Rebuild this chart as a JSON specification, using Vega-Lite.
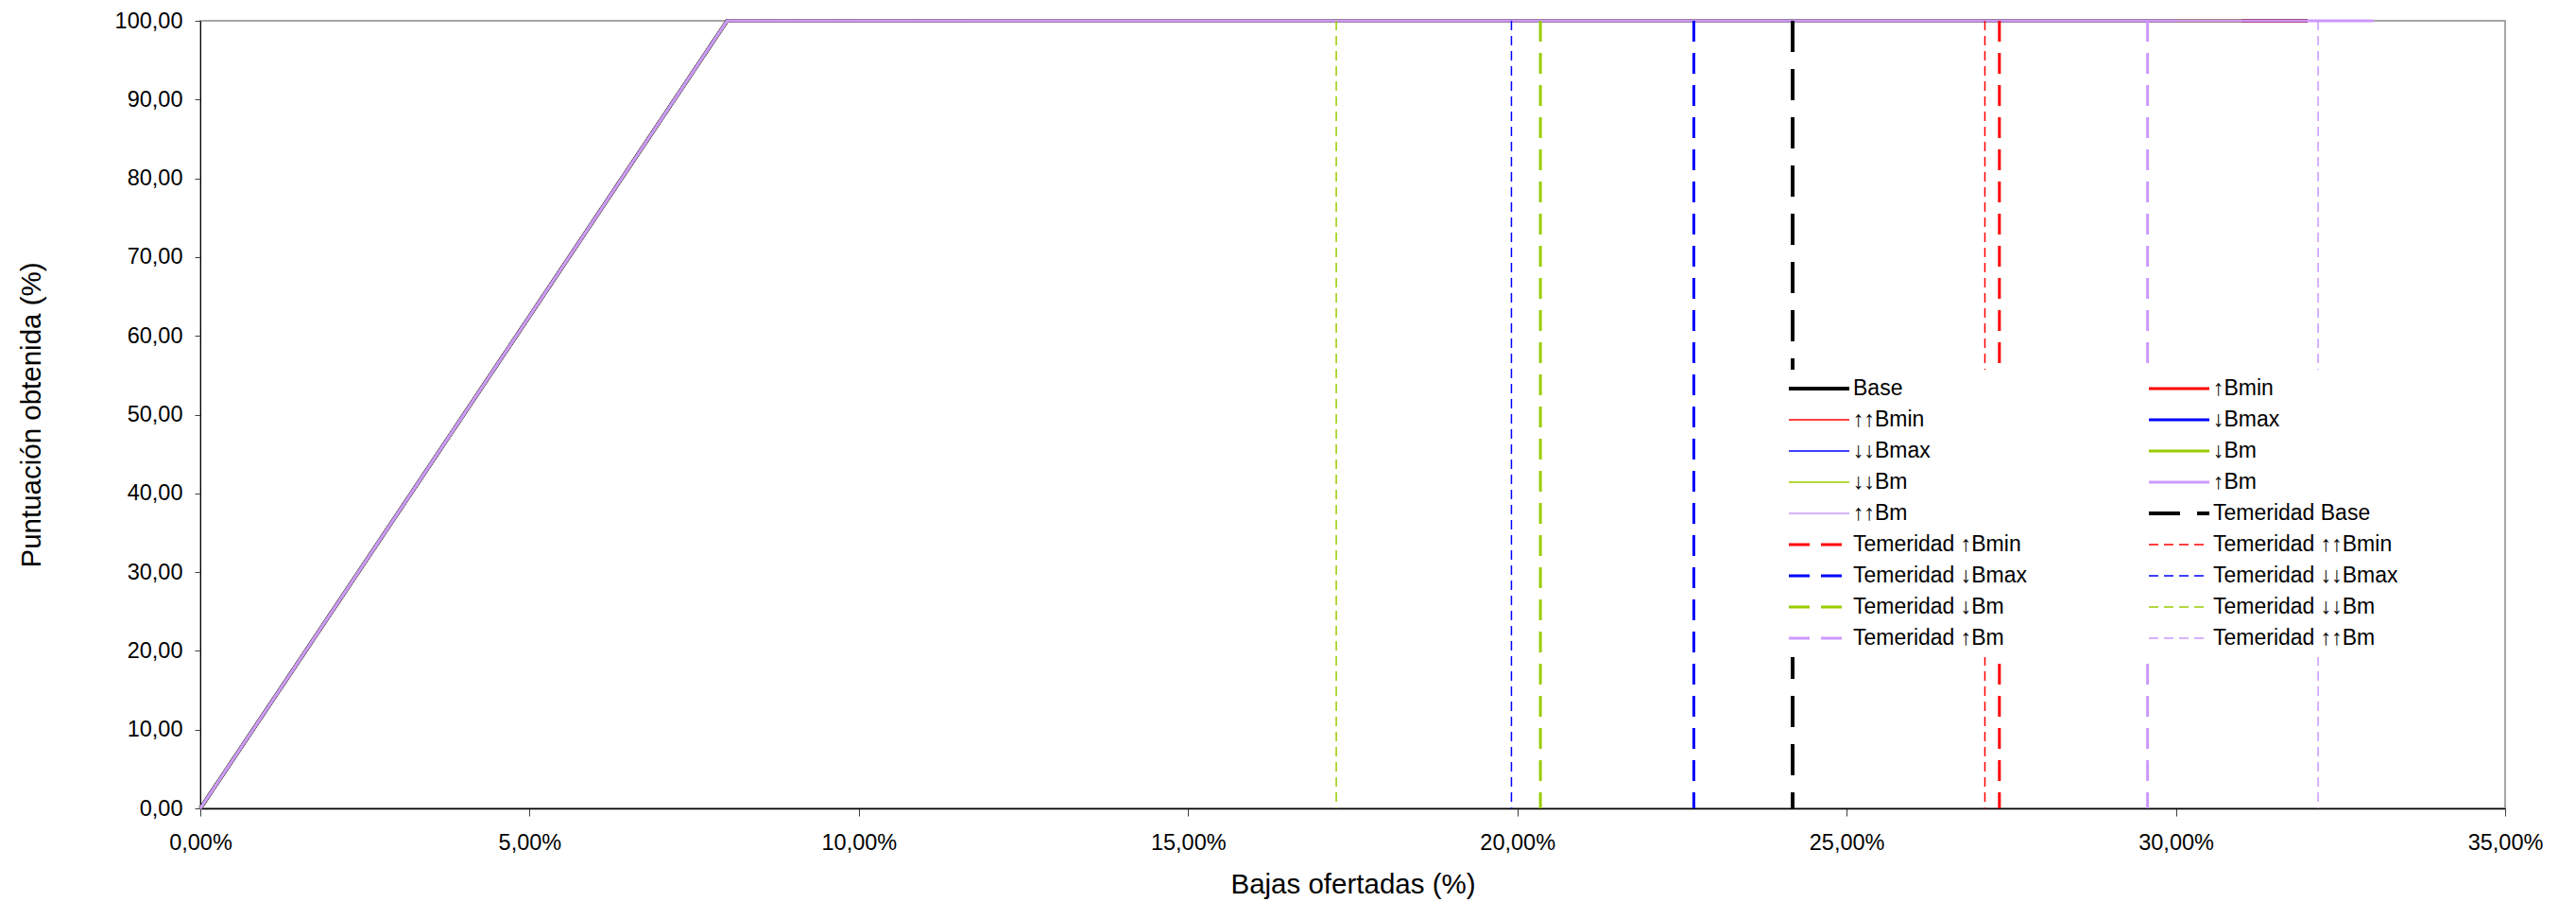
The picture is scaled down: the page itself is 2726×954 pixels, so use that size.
{
  "$schema": "https://vega.github.io/schema/vega-lite/v6.json",
  "autosize": {"type": "none"},
  "padding": {"left": 212, "top": 22, "right": 75, "bottom": 99},
  "width": 2439,
  "height": 833,
  "background": "white",
  "config": {
    "view": {"stroke": "#A6A6A6", "strokeWidth": 2},
    "font": "Liberation Sans",
    "axis": {
      "labelFont": "Liberation Sans",
      "labelFontSize": 23.5,
      "labelColor": "#000000",
      "labelFlush": false,
      "labelOverlap": false,
      "titleFont": "Liberation Sans",
      "titleFontSize": 29.5,
      "titleFontWeight": "normal",
      "titleColor": "#000000",
      "domainColor": "#000000",
      "tickColor": "#404040",
      "grid": false
    }
  },
  "data": {
    "values": [
      {"serie": "Base", "bajas": 0, "puntos": 0},
      {"serie": "Base", "bajas": 8, "puntos": 100},
      {"serie": "Base", "bajas": 32, "puntos": 100},
      {"serie": "↑Bmin", "bajas": 0, "puntos": 0},
      {"serie": "↑Bmin", "bajas": 8, "puntos": 100},
      {"serie": "↑Bmin", "bajas": 32, "puntos": 100},
      {"serie": "↑↑Bmin", "bajas": 0, "puntos": 0},
      {"serie": "↑↑Bmin", "bajas": 8, "puntos": 100},
      {"serie": "↑↑Bmin", "bajas": 32, "puntos": 100},
      {"serie": "↓Bmax", "bajas": 0, "puntos": 0},
      {"serie": "↓Bmax", "bajas": 8, "puntos": 100},
      {"serie": "↓Bmax", "bajas": 30, "puntos": 100},
      {"serie": "↓↓Bmax", "bajas": 0, "puntos": 0},
      {"serie": "↓↓Bmax", "bajas": 8, "puntos": 100},
      {"serie": "↓↓Bmax", "bajas": 30, "puntos": 100},
      {"serie": "↓Bm", "bajas": 0, "puntos": 0},
      {"serie": "↓Bm", "bajas": 8, "puntos": 100},
      {"serie": "↓Bm", "bajas": 31, "puntos": 100},
      {"serie": "↓↓Bm", "bajas": 0, "puntos": 0},
      {"serie": "↓↓Bm", "bajas": 8, "puntos": 100},
      {"serie": "↓↓Bm", "bajas": 30, "puntos": 100},
      {"serie": "↑Bm", "bajas": 0, "puntos": 0},
      {"serie": "↑Bm", "bajas": 8, "puntos": 100},
      {"serie": "↑Bm", "bajas": 33, "puntos": 100},
      {"serie": "↑↑Bm", "bajas": 0, "puntos": 0},
      {"serie": "↑↑Bm", "bajas": 8, "puntos": 100},
      {"serie": "↑↑Bm", "bajas": 33, "puntos": 100},
      {"serie": "Temeridad Base", "bajas": 24.18, "puntos": 100},
      {"serie": "Temeridad Base", "bajas": 24.18, "puntos": 0},
      {"serie": "Temeridad ↑Bmin", "bajas": 27.32, "puntos": 100},
      {"serie": "Temeridad ↑Bmin", "bajas": 27.32, "puntos": 0},
      {"serie": "Temeridad ↑↑Bmin", "bajas": 27.1, "puntos": 100},
      {"serie": "Temeridad ↑↑Bmin", "bajas": 27.1, "puntos": 0},
      {"serie": "Temeridad ↓Bmax", "bajas": 22.68, "puntos": 100},
      {"serie": "Temeridad ↓Bmax", "bajas": 22.68, "puntos": 0},
      {"serie": "Temeridad ↓↓Bmax", "bajas": 19.91, "puntos": 100},
      {"serie": "Temeridad ↓↓Bmax", "bajas": 19.91, "puntos": 0},
      {"serie": "Temeridad ↓Bm", "bajas": 20.35, "puntos": 100},
      {"serie": "Temeridad ↓Bm", "bajas": 20.35, "puntos": 0},
      {"serie": "Temeridad ↓↓Bm", "bajas": 17.25, "puntos": 100},
      {"serie": "Temeridad ↓↓Bm", "bajas": 17.25, "puntos": 0},
      {"serie": "Temeridad ↑Bm", "bajas": 29.57, "puntos": 100},
      {"serie": "Temeridad ↑Bm", "bajas": 29.57, "puntos": 0},
      {"serie": "Temeridad ↑↑Bm", "bajas": 32.16, "puntos": 100},
      {"serie": "Temeridad ↑↑Bm", "bajas": 32.16, "puntos": 0}
    ]
  },
  "encoding": {
    "x": {
      "field": "bajas", "type": "quantitative",
      "scale": {"domain": [0, 35], "nice": false, "zero": false},
      "axis": {
        "title": "Bajas ofertadas (%)",
        "values": [0, 5, 10, 15, 20, 25, 30, 35],
        "labelExpr": "replace(format(datum.value / 100, '.2%'), '.', ',')",
        "tickSize": 8,
        "labelPadding": 16,
        "domainWidth": 1.5,
        "titleY": 89,
        "titleBaseline": "alphabetic"
      }
    },
    "y": {
      "field": "puntos", "type": "quantitative",
      "scale": {"domain": [0, 100], "nice": false},
      "axis": {
        "title": "Puntuación obtenida (%)",
        "values": [0, 10, 20, 30, 40, 50, 60, 70, 80, 90, 100],
        "labelExpr": "replace(format(datum.value, '.2f'), '.', ',')",
        "tickSize": 6,
        "labelPadding": 13,
        "titleX": -170,
        "titleY": 416.5,
        "titleBaseline": "alphabetic"
      }
    },
    "color": {
      "field": "serie", "type": "nominal",
      "scale": {
        "domain": ["Base", "↑↑Bmin", "↓↓Bmax", "↓↓Bm", "↑↑Bm", "Temeridad ↑Bmin", "Temeridad ↓Bmax", "Temeridad ↓Bm", "Temeridad ↑Bm", "↑Bmin", "↓Bmax", "↓Bm", "↑Bm", "Temeridad Base", "Temeridad ↑↑Bmin", "Temeridad ↓↓Bmax", "Temeridad ↓↓Bm", "Temeridad ↑↑Bm"],
        "range": ["#000000", "#FF0000", "#0000FF", "#99CC00", "#CC99FF", "#FF0000", "#0000FF", "#99CC00", "#CC99FF", "#FF0000", "#0000FF", "#99CC00", "#CC99FF", "#000000", "#FF0000", "#0000FF", "#99CC00", "#CC99FF"]
      },
      "legend": {
        "title": null,
        "orient": "none",
        "legendX": 1672,
        "legendY": 369,
        "columns": 2,
        "columnPadding": 126,
        "rowPadding": 7,
        "clipHeight": 26,
        "symbolType": "stroke",
        "symbolSize": 4096,
        "labelFont": "Liberation Sans",
        "labelFontSize": 23,
        "labelColor": "#000000",
        "labelOffset": 2,
        "labelLimit": 400,
        "padding": 7,
        "fillColor": "#FFFFFF"
      }
    },
    "strokeDash": {
      "field": "serie", "type": "nominal",
      "scale": {
        "domain": ["Base", "↑↑Bmin", "↓↓Bmax", "↓↓Bm", "↑↑Bm", "Temeridad ↑Bmin", "Temeridad ↓Bmax", "Temeridad ↓Bm", "Temeridad ↑Bm", "↑Bmin", "↓Bmax", "↓Bm", "↑Bm", "Temeridad Base", "Temeridad ↑↑Bmin", "Temeridad ↓↓Bmax", "Temeridad ↓↓Bm", "Temeridad ↑↑Bm"],
        "range": [[1, 0], [1, 0], [1, 0], [1, 0], [1, 0], [22, 12], [22, 12], [22, 12], [22, 12], [1, 0], [1, 0], [1, 0], [1, 0], [33, 18], [10, 6], [10, 6], [10, 6], [10, 6]]
      }
    },
    "strokeWidth": {
      "field": "serie", "type": "nominal",
      "scale": {
        "type": "ordinal",
        "domain": ["Base", "↑↑Bmin", "↓↓Bmax", "↓↓Bm", "↑↑Bm", "Temeridad ↑Bmin", "Temeridad ↓Bmax", "Temeridad ↓Bm", "Temeridad ↑Bm", "↑Bmin", "↓Bmax", "↓Bm", "↑Bm", "Temeridad Base", "Temeridad ↑↑Bmin", "Temeridad ↓↓Bmax", "Temeridad ↓↓Bm", "Temeridad ↑↑Bm"],
        "range": [4, 1.5, 1.5, 1.5, 1.5, 3, 3, 3, 3, 3, 3, 3, 3, 4, 1.5, 1.5, 1.5, 1.5]
      }
    }
  },
  "layer": [
    {
      "transform": [{"filter": "indexof(datum.serie, 'Temeridad') < 0"}],
      "mark": {"type": "line", "strokeCap": "butt"}
    },
    {
      "transform": [{"filter": "indexof(datum.serie, 'Temeridad') >= 0"}],
      "mark": {"type": "line", "strokeCap": "butt"},
      "encoding": {"order": {"field": "puntos", "sort": "descending"}}
    }
  ]
}
